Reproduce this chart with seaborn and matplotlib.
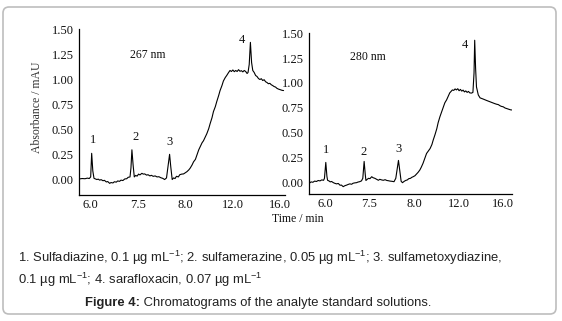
import numpy as np
import pandas as pd
import matplotlib.pyplot as plt
import seaborn as sns
from matplotlib.patches import FancyBboxPatch
from matplotlib.transforms import IdentityTransform

# x axis is drawn as evenly spaced slots labelled with these times
tick_labels = ["6.0", "7.5", "8.0", "12.0", "16.0"]
y_ticks = [0.00, 0.25, 0.50, 0.75, 1.00, 1.25, 1.50]

# 267 nm trace (x in tick-slot units, 0 = 6.0 ... 4 = 16.0)
x_267 = [-0.24, -0.18, -0.12, -0.07, -0.03, 0.00, 0.021, 0.045, 0.07, 0.10,
         0.13, 0.16, 0.19, 0.22, 0.26, 0.29, 0.33, 0.36, 0.40, 0.43,
         0.47, 0.50, 0.54, 0.57, 0.61, 0.64, 0.68, 0.72, 0.76, 0.79,
         0.83, 0.85, 0.87, 0.895, 0.92, 0.95, 0.98, 1.01, 1.04, 1.08,
         1.11, 1.14, 1.18, 1.21, 1.25, 1.28, 1.32, 1.36, 1.40, 1.44,
         1.48, 1.52, 1.56, 1.60, 1.63, 1.665, 1.69, 1.72, 1.75, 1.78,
         1.81, 1.85, 1.88, 1.92, 1.96, 2.00, 2.03, 2.07, 2.10, 2.14,
         2.17, 2.21, 2.24, 2.28, 2.31, 2.35, 2.38, 2.42, 2.45, 2.49,
         2.52, 2.56, 2.59, 2.63, 2.66, 2.70, 2.73, 2.77, 2.80, 2.84,
         2.87, 2.91, 2.94, 2.97, 3.00, 3.03, 3.06, 3.09, 3.12, 3.15,
         3.18, 3.21, 3.24, 3.27, 3.30, 3.32, 3.345, 3.37, 3.395, 3.42,
         3.45, 3.48, 3.51, 3.54, 3.57, 3.60, 3.63, 3.66, 3.69, 3.72,
         3.75, 3.78, 3.81, 3.84, 3.87, 3.90, 3.93, 3.96, 4.00, 4.04, 4.07]
y_267 = [0.010, 0.014, 0.012, 0.018, 0.014, 0.030, 0.265, 0.090, 0.016, 0.010,
         0.004, 0.008, -0.002, 0.003, -0.008, -0.004, -0.020, -0.016, -0.034, -0.026,
         -0.030, -0.018, -0.022, -0.010, -0.014, -0.002, -0.006, 0.010, 0.012, 0.026,
         0.030, 0.120, 0.300, 0.150, 0.030, 0.045, 0.038, 0.058, 0.050, 0.066,
         0.058, 0.060, 0.048, 0.052, 0.040, 0.046, 0.036, 0.040, 0.030, 0.032,
         0.022, 0.016, 0.004, 0.020, 0.130, 0.255, 0.130, 0.004, 0.020, 0.014,
         0.036, 0.030, 0.052, 0.058, 0.060, 0.072, 0.082, 0.100, 0.118, 0.150,
         0.180, 0.205, 0.245, 0.300, 0.330, 0.370, 0.390, 0.430, 0.460, 0.510,
         0.560, 0.620, 0.680, 0.730, 0.780, 0.840, 0.890, 0.940, 0.985, 1.020,
         1.040, 1.070, 1.090, 1.080, 1.095, 1.078, 1.090, 1.080, 1.098, 1.082,
         1.088, 1.076, 1.090, 1.080, 1.060, 1.070, 1.150, 1.370, 1.170, 1.090,
         1.070, 1.040, 1.030, 1.010, 1.000, 1.008, 0.990, 0.998, 0.978, 0.970,
         0.958, 0.962, 0.948, 0.940, 0.930, 0.925, 0.912, 0.905, 0.898, 0.892, 0.890]

# 280 nm trace
x_280 = [-0.35, -0.31, -0.27, -0.23, -0.19, -0.15, -0.11, -0.07, -0.03, -0.01,
         0.02, 0.045, 0.06, 0.09, 0.12, 0.15, 0.19, 0.22, 0.26, 0.30,
         0.34, 0.37, 0.41, 0.45, 0.49, 0.52, 0.56, 0.60, 0.63, 0.67,
         0.71, 0.74, 0.78, 0.82, 0.85, 0.88, 0.905, 0.92, 0.95, 0.98,
         1.01, 1.05, 1.08, 1.12, 1.16, 1.20, 1.23, 1.27, 1.31, 1.35,
         1.39, 1.42, 1.46, 1.50, 1.55, 1.59, 1.65, 1.685, 1.71, 1.74,
         1.78, 1.81, 1.85, 1.88, 1.92, 1.95, 1.98, 2.02, 2.05, 2.09,
         2.13, 2.16, 2.20, 2.24, 2.28, 2.32, 2.36, 2.40, 2.43, 2.47,
         2.51, 2.54, 2.58, 2.62, 2.66, 2.69, 2.73, 2.77, 2.80, 2.83,
         2.86, 2.89, 2.92, 2.95, 2.98, 3.01, 3.04, 3.07, 3.10, 3.13,
         3.16, 3.19, 3.22, 3.25, 3.29, 3.32, 3.345, 3.36, 3.38, 3.40,
         3.44, 3.48, 3.51, 3.55, 3.59, 3.62, 3.66, 3.70, 3.74, 3.78,
         3.81, 3.85, 3.89, 3.93, 3.96, 4.00, 4.04, 4.08, 4.12, 4.16, 4.19]
y_280 = [-0.010, 0.004, 0.000, 0.012, 0.008, 0.018, 0.014, 0.024, 0.020, 0.040,
         0.200, 0.060, 0.020, 0.014, 0.004, 0.008, -0.004, -0.010, -0.016, -0.012,
         -0.030, -0.028, -0.044, -0.034, -0.028, -0.022, -0.016, -0.020, -0.010, -0.006,
         -0.004, 0.002, 0.006, 0.014, 0.040, 0.210, 0.080, 0.018, 0.030, 0.040,
         0.036, 0.056, 0.046, 0.040, 0.030, 0.020, 0.030, 0.024, 0.020, 0.026,
         0.018, 0.016, 0.012, 0.010, 0.006, 0.040, 0.220, 0.100, 0.010, -0.004,
         0.010, 0.018, 0.024, 0.036, 0.040, 0.050, 0.056, 0.066, 0.080, 0.100,
         0.124, 0.150, 0.190, 0.240, 0.290, 0.315, 0.340, 0.380, 0.426, 0.480,
         0.540, 0.600, 0.660, 0.710, 0.760, 0.800, 0.830, 0.870, 0.900, 0.915,
         0.930, 0.925, 0.940, 0.930, 0.942, 0.922, 0.935, 0.918, 0.928, 0.910,
         0.920, 0.905, 0.915, 0.900, 0.898, 0.905, 1.100, 1.430, 1.150, 0.960,
         0.880, 0.850, 0.845, 0.838, 0.830, 0.825, 0.818, 0.810, 0.805, 0.796,
         0.792, 0.786, 0.782, 0.770, 0.764, 0.760, 0.748, 0.742, 0.736, 0.730, 0.728]

# peak numbers (position, height) for each panel
peak_names = ["1", "2", "3", "4"]
peaks_267 = [(0.04, 0.40), (0.94, 0.43), (1.66, 0.38), (3.19, 1.39)]
peaks_280 = [(0.02, 0.32), (0.87, 0.30), (1.64, 0.34), (3.14, 1.38)]

caption_1 = "1. Sulfadiazine, 0.1 µg mL$^{-1}$; 2. sulfamerazine, 0.05 µg mL$^{-1}$; 3. sulfametoxydiazine,"
caption_2 = "0.1 µg mL$^{-1}$; 4. sarafloxacin, 0.07 µg mL$^{-1}$"
title_bold = "Figure 4:"
title_rest = " Chromatograms of the analyte standard solutions."

sns.set_style("white")
plt.rcParams['font.family'] = ['Liberation Serif', 'DejaVu Serif']
plt.rcParams['mathtext.fontset'] = 'custom'
plt.rcParams['mathtext.rm'] = 'Liberation Sans'
plt.rcParams['mathtext.bf'] = 'Liberation Sans:bold'

fig = plt.figure(figsize=(5.62, 3.21), dpi=100)
W, H = 562, 321

def px_axes(left, top, right, bottom):
    return fig.add_axes([left / W, 1 - bottom / H, (right - left) / W, (bottom - top) / H])

ax1 = px_axes(79.3, 29.3, 285, 195)
ax2 = px_axes(309.3, 33.3, 511.7, 194)

df1 = pd.DataFrame({"pos": x_267, "abs": y_267})
df2 = pd.DataFrame({"pos": x_280, "abs": y_280})
sns.lineplot(data=df1, x="pos", y="abs", ax=ax1, color="black", lw=0.8)
sns.lineplot(data=df2, x="pos", y="abs", ax=ax2, color="black", lw=0.8)

ax1.set_xlim(-0.24, 4.1)
ax1.set_ylim(-0.15, 1.50)
ax2.set_xlim(-0.35, 4.19)
ax2.set_ylim(-0.118, 1.50)

for ax, peaks, tag, tag_pos in [(ax1, peaks_267, "267 nm", (1.21, 1.24)),
                                (ax2, peaks_280, "280 nm", (0.96, 1.26))]:
    sns.despine(ax=ax)
    ax.set_xticks(range(len(tick_labels)))
    ax.set_xticklabels(tick_labels)
    ax.set_yticks(y_ticks)
    ax.set_yticklabels([f"{v:.2f}" for v in y_ticks])
    ax.tick_params(axis="both", length=0, labelsize=9, colors="#111111")
    ax.tick_params(axis="x", pad=3)
    ax.tick_params(axis="y", pad=4)
    for s in ["left", "bottom"]:
        ax.spines[s].set_color("black")
        ax.spines[s].set_linewidth(0.9)
    ax.set_xlabel("")
    ax.set_ylabel("")
    ax.text(tag_pos[0], tag_pos[1], tag, fontsize=8.5, ha="center", va="center", color="#111111")
    for name, (px, py) in zip(peak_names, peaks):
        ax.text(px, py, name, fontsize=9, ha="center", va="center", color="#111111")

ax1.set_ylabel("Absorbance / mAU", fontsize=8.5, color="#333333")
ax1.yaxis.set_label_coords(-0.176, 0.53)
fig.text(297.5 / W, 1 - 219 / H, "Time / min", fontsize=8.5, ha="center", va="center", color="#111111")

# caption
fig.text(18 / W, 1 - 258 / H, caption_1, family="Liberation Sans", fontsize=9.4,
         ha="left", va="center", color="#222222")
fig.text(18 / W, 1 - 280 / H, caption_2, family="Liberation Sans", fontsize=9.4,
         ha="left", va="center", color="#222222")

# figure title: bold part then regular part, centred together
renderer = fig.canvas.get_renderer()
t_bold = fig.text(0, 1 - 303 / H, title_bold, family="Liberation Sans", fontsize=9.4,
                  weight="bold", ha="left", va="center", color="#222222")
t_rest = fig.text(0, 1 - 303 / H, title_rest, family="Liberation Sans", fontsize=9.4,
                  ha="left", va="center", color="#222222")
wb = t_bold.get_window_extent(renderer).width
wr = t_rest.get_window_extent(renderer).width
x0 = 258 - (wb + wr) / 2
t_bold.set_x(x0 / W)
t_rest.set_x((x0 + wb) / W)

frame = FancyBboxPatch((3, 7), 553, 307, boxstyle="round,pad=0,rounding_size=6",
                       transform=IdentityTransform(), fill=False, edgecolor="#bdbdbd", lw=1.2)
fig.patches.append(frame)

fig.savefig("out.png", dpi=100)
